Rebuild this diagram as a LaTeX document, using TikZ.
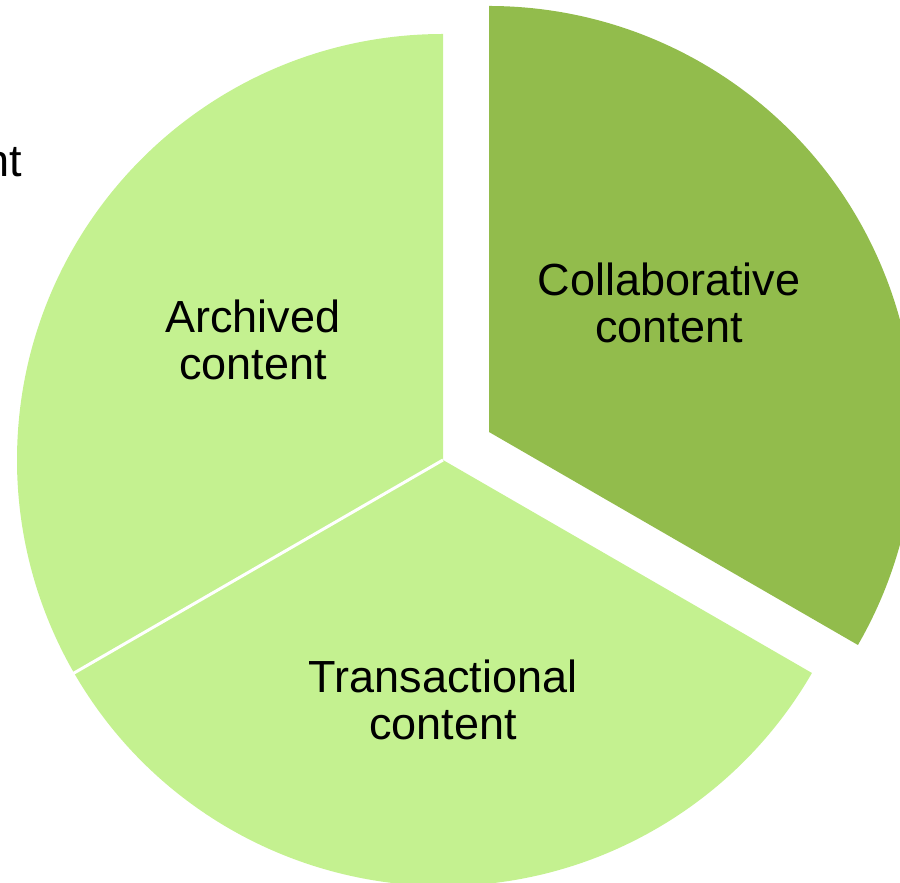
\documentclass[tikz,border=0pt]{standalone}
\usepackage{fontspec}
\setmainfont{Liberation Sans}
\usetikzlibrary{calc}
\definecolor{lightg}{HTML}{C4F190}
\definecolor{darkg}{HTML}{92BC4C}
\begin{document}
\begin{tikzpicture}[x=1pt,y=1pt,
  lbl/.style={align=center,font=\fontsize{45}{47}\selectfont,text=black,inner sep=0pt}]
\useasboundingbox (0,0) rectangle (900,883);
\clip (0,0) rectangle (900,883);
\coordinate (c) at (443,423);
\coordinate (c2) at (489,451);
\fill[lightg] (c) -- ++(90:426) arc[start angle=90,end angle=210,radius=426] -- cycle;
\fill[lightg] (c) -- ++(210:426) arc[start angle=210,end angle=330,radius=426] -- cycle;
\fill[darkg] (c2) -- ++(-30:426) arc[start angle=-30,end angle=90,radius=426] -- cycle;
\coordinate (e) at ($(c)+(210:430)$);
\draw[white,line width=3pt] (c) -- (e);
\node[lbl] (arch) at (253,543) {Archived\\content};
\node[lbl] (coll) at (669,580) {Collaborative\\content};
\node[lbl] (trans) at (443,183) {Transactional\\content};
\node[font=\fontsize{45}{47}\selectfont,anchor=base east,inner sep=0pt] (nt) at (22,706) {nt};
\end{tikzpicture}
\end{document}
